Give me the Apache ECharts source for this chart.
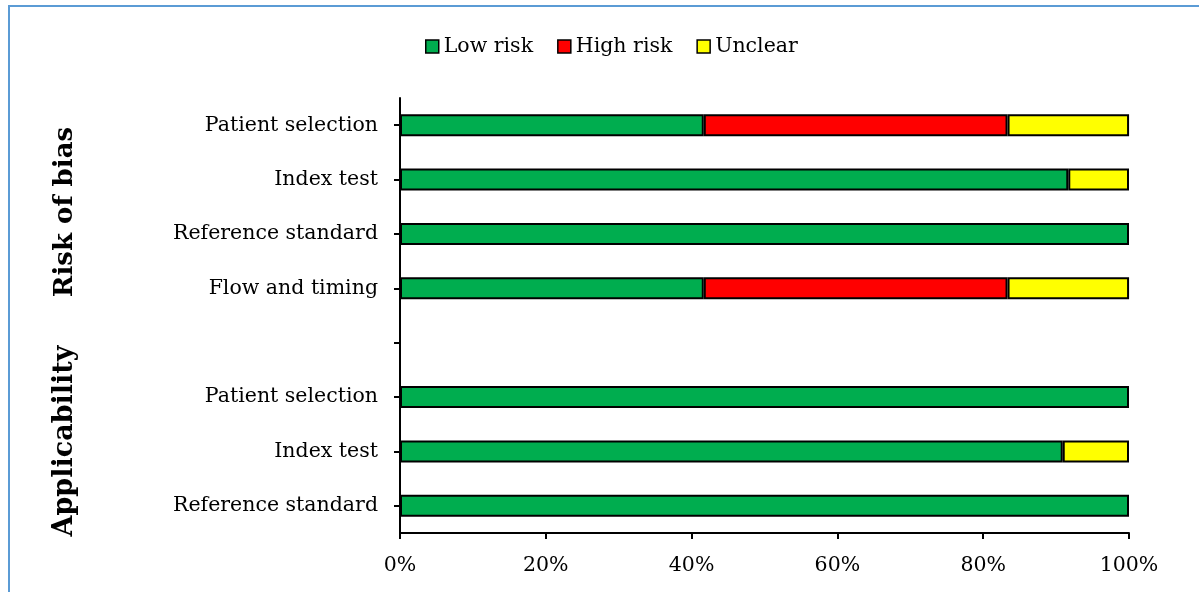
<!DOCTYPE html>
<html>
<head>
<meta charset="utf-8">
<script src="https://cdn.jsdelivr.net/npm/echarts@6/dist/echarts.min.js"></script>
<style>
  html, body { margin: 0; padding: 0; background: #fff; }
  #chart { width: 1199px; height: 592px; }
</style>
</head>
<body>
<div id="chart"></div>
<script>
// QUADAS-2 domains (the empty entry separates the two groups)
const categories = [
  'Patient selection', 'Index test', 'Reference standard', 'Flow and timing',
  '',
  'Patient selection', 'Index test', 'Reference standard'
];
// Percentage of studies per judgement
const lowRisk  = [41.67, 91.67, 100, 41.67, null, 100, 90.91, 100];
const highRisk = [41.67, 0, 0, 41.67, null, 0, 0, 0];
const unclear  = [16.67, 8.33, 0, 16.67, null, 0, 9.09, 0];
const xTicks = [0, 20, 40, 60, 80, 100];
const groupTitles = ['Risk of bias', 'Applicability'];

const FONT = '"DejaVu Serif", serif';
const FS = 20.5;
const toData = arr => arr.map(v => (v === null || v === 0) ? '-' : v);

const chart = echarts.init(document.getElementById('chart'), null, { renderer: 'canvas' });

const barStyle = color => ({
  color: color,
  borderColor: '#000',
  borderWidth: 2
});

chart.setOption({
  animation: false,
  backgroundColor: '#fff',
  legend: {
    top: 31,
    left: 420,
    icon: 'rect',
    itemWidth: 13,
    itemHeight: 13,
    itemGap: 24,
    itemStyle: { borderColor: '#000', borderWidth: 1.5 },
    textStyle: { fontFamily: FONT, fontSize: FS, color: '#000' },
    data: ['Low risk', 'High risk', 'Unclear']
  },
  grid: { left: 400, right: 70, top: 98, bottom: 59, containLabel: false },
  xAxis: {
    type: 'value',
    min: xTicks[0],
    max: xTicks[xTicks.length - 1],
    interval: 20,
    axisLine: { show: true, lineStyle: { color: '#000', width: 2 } },
    axisTick: { show: true, length: 6, lineStyle: { color: '#000', width: 2 } },
    splitLine: { show: false },
    axisLabel: {
      formatter: '{value}%',
      fontFamily: FONT, fontSize: FS, color: '#000', margin: 22
    }
  },
  yAxis: {
    type: 'category',
    inverse: true,
    data: categories,
    axisLine: { show: true, lineStyle: { color: '#000', width: 2 } },
    axisTick: { show: true, alignWithLabel: true, length: 6, lineStyle: { color: '#000', width: 2 } },
    axisLabel: { fontFamily: FONT, fontSize: FS, color: '#000', margin: 22 }
  },
  series: [
    { name: 'Low risk', type: 'bar', stack: 'all', barWidth: 22, itemStyle: barStyle('#00ad4f'), data: toData(lowRisk) },
    { name: 'High risk', type: 'bar', stack: 'all', barWidth: 22, itemStyle: barStyle('#ff0000'), data: toData(highRisk) },
    { name: 'Unclear', type: 'bar', stack: 'all', barWidth: 22, itemStyle: barStyle('#ffff00'), data: toData(unclear) }
  ],
  graphic: [
    {
      type: 'rect',
      shape: { x: 9, y: 6, width: 1400, height: 800 },
      style: { fill: 'none', stroke: '#5b9bd5', lineWidth: 2 },
      silent: true
    },
    {
      type: 'text',
      x: 65, y: 212, rotation: Math.PI / 2,
      style: { text: groupTitles[0], fontFamily: FONT, fontSize: 26, fontWeight: 'bold', fill: '#000', align: 'center', verticalAlign: 'middle' }
    },
    {
      type: 'text',
      x: 65, y: 441, rotation: Math.PI / 2,
      style: { text: groupTitles[1], fontFamily: FONT, fontSize: 27, fontWeight: 'bold', fill: '#000', align: 'center', verticalAlign: 'middle' }
    }
  ]
});
</script>
</body>
</html>
